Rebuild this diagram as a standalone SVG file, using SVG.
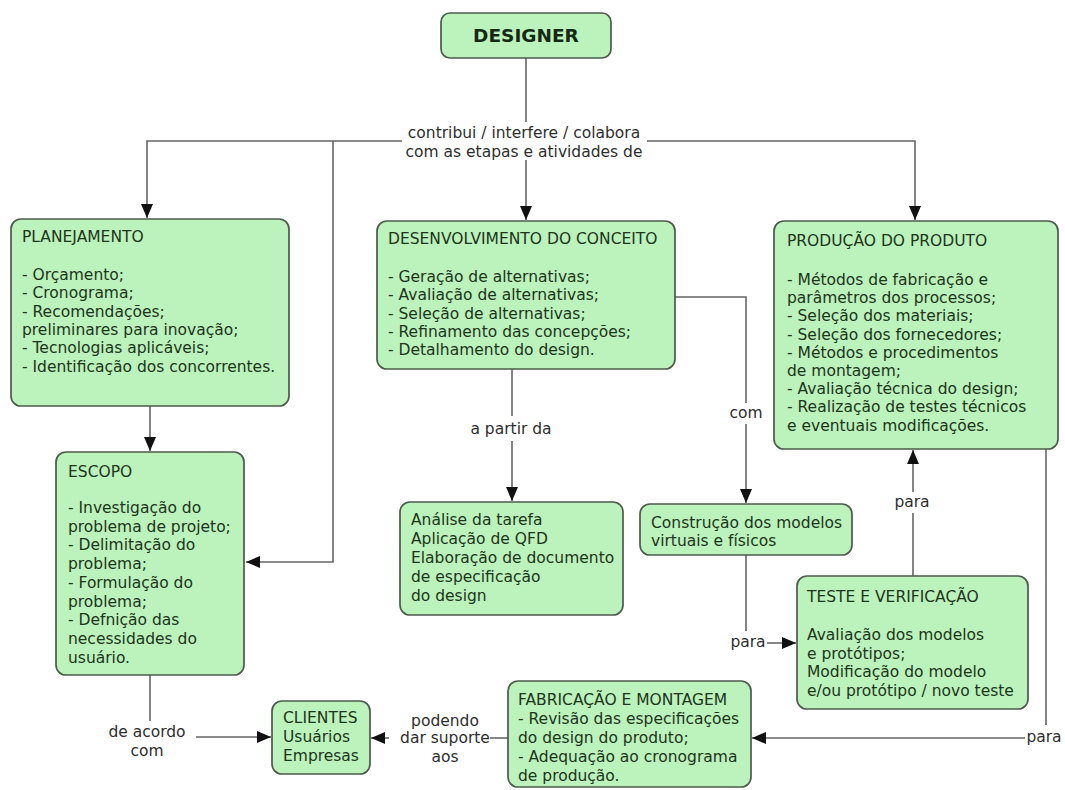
<svg xmlns="http://www.w3.org/2000/svg" width="1065" height="790" viewBox="0 0 1065 790">
<style>
.box{fill:#bcf2bb;stroke:#4d5a4d;stroke-width:1.7}
.t{font-family:"DejaVu Sans",Verdana,sans-serif;font-size:15.5px;fill:#1c351c}
.lb{font-family:"DejaVu Sans",Verdana,sans-serif;font-size:15.5px;fill:#2e2e2e}
.c{fill:none;stroke:#666666;stroke-width:1.6}
</style>
<defs>
<marker id="ah" markerUnits="userSpaceOnUse" markerWidth="15" markerHeight="15" viewBox="0 0 15 15" refX="14" refY="7.5" orient="auto">
<path d="M0,1.5 L14,7.5 L0,13.5 Z" fill="#111111"/>
</marker>
</defs>
<rect width="1065" height="790" fill="#ffffff"/>

<g id="connectors">
<path class="c" d="M526,58 V122"/>
<path class="c" d="M402,141 H147 V218" marker-end="url(#ah)"/>
<path class="c" d="M333,141 V562 H246" marker-end="url(#ah)"/>
<path class="c" d="M647,141 H915 V220" marker-end="url(#ah)"/>
<path class="c" d="M526,160 V220" marker-end="url(#ah)"/>
<path class="c" d="M150,406 V451" marker-end="url(#ah)"/>
<path class="c" d="M150,675 V721"/>
<path class="c" d="M196,737 H271" marker-end="url(#ah)"/>
<path class="c" d="M512,369 V416"/>
<path class="c" d="M512,441 V501" marker-end="url(#ah)"/>
<path class="c" d="M675,297 H746 V403"/>
<path class="c" d="M746,424 V503" marker-end="url(#ah)"/>
<path class="c" d="M746,555 V631"/>
<path class="c" d="M767,643 H796" marker-end="url(#ah)"/>
<path class="c" d="M913,576 V513"/>
<path class="c" d="M913,492 V450" marker-end="url(#ah)"/>
<path class="c" d="M1046,449 V725"/>
<path class="c" d="M1025,738 H752" marker-end="url(#ah)"/>
<path class="c" d="M508,738 H490"/>
<path class="c" d="M389,738 H371" marker-end="url(#ah)"/>
</g>

<g id="labels">
<text class="lb" text-anchor="middle" x="524" y="138">contribui / interfere / colabora</text>
<text class="lb" text-anchor="middle" x="524" y="157">com as etapas e atividades de</text>
<text class="lb" text-anchor="middle" x="147" y="737">de acordo</text>
<text class="lb" text-anchor="middle" x="147" y="756">com</text>
<text class="lb" text-anchor="middle" x="511" y="434">a partir da</text>
<text class="lb" text-anchor="middle" x="746" y="418">com</text>
<text class="lb" text-anchor="middle" x="748" y="647">para</text>
<text class="lb" text-anchor="middle" x="912" y="507">para</text>
<text class="lb" text-anchor="middle" x="1044" y="742">para</text>
<text class="lb" text-anchor="middle" x="445" y="726">podendo</text>
<text class="lb" text-anchor="middle" x="445" y="743">dar suporte</text>
<text class="lb" text-anchor="middle" x="445" y="762">aos</text>
</g>

<g id="designer">
<rect class="box" x="441" y="13" width="170" height="45" rx="9"/>
<text class="t" x="526" y="42" text-anchor="middle" style="font-weight:bold;font-size:18.5px;fill:#142814">DESIGNER</text>
</g>

<g id="planejamento">
<rect class="box" x="11" y="219" width="278" height="187" rx="10"/>
<text class="t" x="22" y="242">PLANEJAMENTO</text>
<text class="t" x="22" y="280">- Orçamento;</text>
<text class="t" x="22" y="298.3">- Cronograma;</text>
<text class="t" x="22" y="316.6">- Recomendações;</text>
<text class="t" x="22" y="334.9">preliminares para inovação;</text>
<text class="t" x="22" y="353.2">- Tecnologias aplicáveis;</text>
<text class="t" x="22" y="371.5">- Identificação dos concorrentes.</text>
</g>

<g id="escopo">
<rect class="box" x="56" y="452" width="188" height="223" rx="10"/>
<text class="t" x="68" y="477">ESCOPO</text>
<text class="t" x="68" y="513">- Investigação do</text>
<text class="t" x="68" y="531.7">problema de projeto;</text>
<text class="t" x="68" y="550.4">- Delimitação do</text>
<text class="t" x="68" y="569.1">problema;</text>
<text class="t" x="68" y="587.8">- Formulação do</text>
<text class="t" x="68" y="606.5">problema;</text>
<text class="t" x="68" y="625.2">- Defnição das</text>
<text class="t" x="68" y="643.9">necessidades do</text>
<text class="t" x="68" y="662.6">usuário.</text>
</g>

<g id="desenvolvimento">
<rect class="box" x="377" y="221" width="298" height="148" rx="10"/>
<text class="t" x="388" y="244">DESENVOLVIMENTO DO CONCEITO</text>
<text class="t" x="388" y="282">- Geração de alternativas;</text>
<text class="t" x="388" y="300.3">- Avaliação de alternativas;</text>
<text class="t" x="388" y="318.6">- Seleção de alternativas;</text>
<text class="t" x="388" y="336.9">- Refinamento das concepções;</text>
<text class="t" x="388" y="355.2">- Detalhamento do design.</text>
</g>

<g id="producao">
<rect class="box" x="774" y="221" width="284" height="228" rx="10"/>
<text class="t" x="787" y="246">PRODUÇÃO DO PRODUTO</text>
<text class="t" x="787" y="285">- Métodos de fabricação e</text>
<text class="t" x="787" y="303.2">parâmetros dos processos;</text>
<text class="t" x="787" y="321.4">- Seleção dos materiais;</text>
<text class="t" x="787" y="339.6">- Seleção dos fornecedores;</text>
<text class="t" x="787" y="357.8">- Métodos e procedimentos</text>
<text class="t" x="787" y="376">de montagem;</text>
<text class="t" x="787" y="394.2">- Avaliação técnica do design;</text>
<text class="t" x="787" y="412.4">- Realização de testes técnicos</text>
<text class="t" x="787" y="430.6">e eventuais modificações.</text>
</g>

<g id="analise">
<rect class="box" x="400" y="502" width="223" height="113" rx="10"/>
<text class="t" x="411" y="525">Análise da tarefa</text>
<text class="t" x="411" y="544">Aplicação de QFD</text>
<text class="t" x="411" y="563">Elaboração de documento</text>
<text class="t" x="411" y="582">de especificação</text>
<text class="t" x="411" y="601">do design</text>
</g>

<g id="construcao">
<rect class="box" x="640" y="504" width="212" height="51" rx="10"/>
<text class="t" x="651" y="528">Construção dos modelos</text>
<text class="t" x="651" y="546">virtuais e físicos</text>
</g>

<g id="teste">
<rect class="box" x="797" y="576" width="231" height="133" rx="10"/>
<text class="t" x="807" y="602">TESTE E VERIFICAÇÃO</text>
<text class="t" x="807" y="640">Avaliação dos modelos</text>
<text class="t" x="807" y="658.7">e protótipos;</text>
<text class="t" x="807" y="677.4">Modificação do modelo</text>
<text class="t" x="807" y="696.1">e/ou protótipo / novo teste</text>
</g>

<g id="clientes">
<rect class="box" x="272" y="701" width="98" height="73" rx="10"/>
<text class="t" x="283" y="723">CLIENTES</text>
<text class="t" x="283" y="742">Usuários</text>
<text class="t" x="283" y="761">Empresas</text>
</g>

<g id="fabricacao">
<rect class="box" x="508" y="681" width="243" height="106" rx="10"/>
<text class="t" x="518" y="705">FABRICAÇÃO E MONTAGEM</text>
<text class="t" x="518" y="724">- Revisão das especificações</text>
<text class="t" x="518" y="743">do design do produto;</text>
<text class="t" x="518" y="762">- Adequação ao cronograma</text>
<text class="t" x="518" y="781">de produção.</text>
</g>
</svg>
